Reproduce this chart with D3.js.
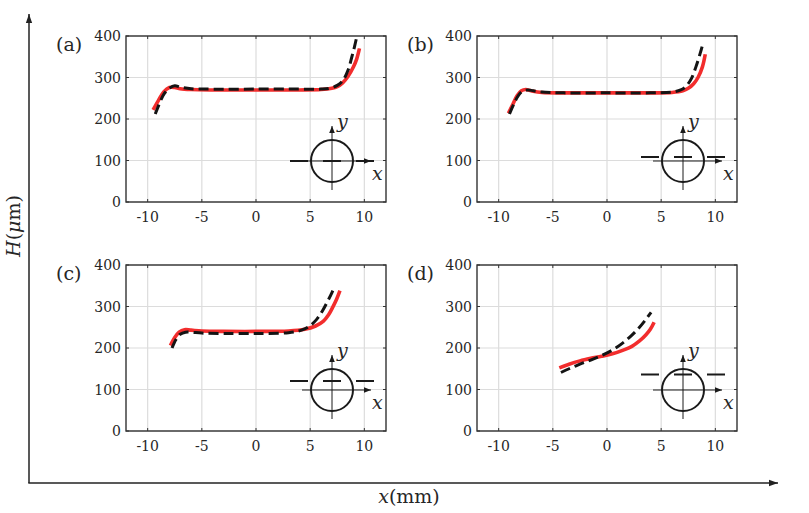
<!DOCTYPE html>
<html>
<head>
<meta charset="utf-8">
<script src="https://cdn.jsdelivr.net/npm/d3@7"></script>
<style>
  body { margin: 0; background: #fff; }
  svg text { fill: #262626; }
</style>
</head>
<body>
<div id="chart"></div>
<script>
// tick values and labels
const xTicks = [-10, -5, 0, 5, 10];
const xTickLabels = ["-10", "-5", "0", "5", "10"];
const yTicks = [0, 100, 200, 300, 400];
const panelNames = ["(a)", "(b)", "(c)", "(d)"];

// red solid curves
const redX = [
  [-9.5, -9.0, -8.5, -8.0, -7.5, -7.0, -6.0, -4, 0, 4, 6, 7, 7.5, 8.0, 8.5, 9.0, 9.3, 9.55],
  [-9.1, -8.7, -8.3, -7.9, -7.5, -7.0, -6.0, -4, 0, 4, 6, 7, 7.5, 8.0, 8.4, 8.8, 9.07],
  [-7.9, -7.5, -7.1, -6.6, -6.0, -5, -3, 0, 3, 4.5, 5.5, 6.2, 6.7, 7.1, 7.45, 7.75],
  [-4.4, -3.5, -2.5, -1.5, -0.5, 0.5, 1.5, 2.3, 3.0, 3.6, 4.0, 4.35]
];
const redY = [
  [222, 245, 266, 276, 276, 273, 271, 270, 270, 270, 271, 274, 278, 287, 303, 326, 345, 370],
  [214, 235, 256, 268, 271, 268, 264, 263, 263, 263, 264, 268, 274, 285, 300, 325, 356],
  [206, 225, 238, 244, 243, 241, 240, 240, 241, 245, 253, 264, 280, 299, 318, 338],
  [152, 161, 169, 175, 180, 186, 195, 204, 217, 232, 245, 262]
];
// black dashed curves
const blackX = [
  [-9.3, -8.9, -8.5, -8.0, -7.5, -7.0, -6.0, -4, 0, 4, 6, 6.8, 7.5, 8.0, 8.5, 8.85, 9.1, 9.3],
  [-9.0, -8.6, -8.2, -7.8, -7.3, -6.8, -6, -4, 0, 4, 6, 6.8, 7.3, 7.8, 8.2, 8.6, 8.9],
  [-7.75, -7.4, -7.0, -6.5, -6.0, -5, -3, 0, 3, 4.2, 5.0, 5.6, 6.1, 6.6, 7.0, 7.27],
  [-4.25, -3.5, -2.5, -1.5, -0.5, 0.5, 1.5, 2.3, 3.0, 3.5, 4.07]
];
const blackY = [
  [212, 238, 260, 274, 280, 277, 273, 272, 272, 272, 272, 274, 281, 292, 318, 350, 375, 398],
  [212, 236, 256, 267, 270, 268, 265, 263, 263, 263, 265, 270, 279, 298, 325, 358, 386],
  [200, 220, 233, 238, 238, 236, 235, 235, 237, 243, 254, 269, 288, 312, 333, 349],
  [141, 150, 161, 171, 182, 195, 213, 231, 250, 266, 286]
];
// vertical offset of the scan line in each inset (px above circle centre)
const scanOffset = [0, 4, 9, 15.5];

const W = 809, H = 513;
const pw = 260, ph = 166;
const lefts = [126, 477, 126, 477];
const tops = [36, 36, 265, 265];
const serif = "'DejaVu Serif', 'Liberation Serif', serif";

const svg = d3.select("#chart").append("svg")
    .attr("width", W).attr("height", H)
    .attr("font-family", serif);

const defs = svg.append("defs");
defs.append("marker")
    .attr("id", "big").attr("viewBox", "0 0 10 10")
    .attr("refX", 10).attr("refY", 5)
    .attr("markerWidth", 9).attr("markerHeight", 9)
    .attr("markerUnits", "userSpaceOnUse")
    .attr("orient", "auto")
    .append("path").attr("d", "M0,1.5L10,5L0,8.5Z").attr("fill", "#222");
defs.append("marker")
    .attr("id", "small").attr("viewBox", "0 0 10 10")
    .attr("refX", 10).attr("refY", 5)
    .attr("markerWidth", 7).attr("markerHeight", 7)
    .attr("markerUnits", "userSpaceOnUse")
    .attr("orient", "auto")
    .append("path").attr("d", "M0,1L10,5L0,9Z").attr("fill", "#1a1a1a");

// big outer axes
svg.append("line")
    .attr("x1", 29).attr("y1", 483).attr("x2", 29).attr("y2", 14)
    .attr("stroke", "#222").attr("stroke-width", 1.5)
    .attr("marker-end", "url(#big)");
svg.append("line")
    .attr("x1", 28.3).attr("y1", 483).attr("x2", 778).attr("y2", 483)
    .attr("stroke", "#222").attr("stroke-width", 1.5)
    .attr("marker-end", "url(#big)");

const yLab = svg.append("text")
    .attr("transform", "translate(20,226) rotate(-90)")
    .attr("text-anchor", "middle")
    .attr("font-size", 19);
yLab.append("tspan").attr("font-style", "italic").text("H");
yLab.append("tspan").text("(");
yLab.append("tspan").attr("font-style", "italic").text("μ");
yLab.append("tspan").text("m)");

const xLab = svg.append("text")
    .attr("x", 409).attr("y", 503)
    .attr("text-anchor", "middle")
    .attr("font-size", 19);
xLab.append("tspan").attr("font-style", "italic").text("x");
xLab.append("tspan").text("(mm)");

panelNames.forEach(function(name, i) {
    const g = svg.append("g")
        .attr("transform", `translate(${lefts[i]},${tops[i]})`);

    const x = d3.scaleLinear().domain([-12, 12]).range([0, pw]);
    const y = d3.scaleLinear().domain([0, 400]).range([ph, 0]);

    // grid
    g.append("g").selectAll("line").data(xTicks).join("line")
        .attr("x1", d => x(d)).attr("x2", d => x(d))
        .attr("y1", 0).attr("y2", ph)
        .attr("stroke", "#dcdcdc").attr("stroke-width", 1.2);
    g.append("g").selectAll("line").data(yTicks).join("line")
        .attr("x1", 0).attr("x2", pw)
        .attr("y1", d => y(d)).attr("y2", d => y(d))
        .attr("stroke", "#dcdcdc").attr("stroke-width", 1.2);

    // inset: circle with axes and scan line
    const cx = pw - 54, cy = ph - 41, r = 21;
    const ins = g.append("g").attr("transform", `translate(${cx},${cy})`);
    ins.append("circle").attr("r", r)
        .attr("fill", "none").attr("stroke", "#1a1a1a").attr("stroke-width", 2);
    ins.append("line")
        .attr("x1", -30).attr("y1", 0).attr("x2", 39).attr("y2", 0)
        .attr("stroke", "#1a1a1a").attr("stroke-width", 1)
        .attr("marker-end", "url(#small)");
    ins.append("line")
        .attr("x1", 0).attr("y1", 29).attr("x2", 0).attr("y2", -35)
        .attr("stroke", "#1a1a1a").attr("stroke-width", 1)
        .attr("marker-end", "url(#small)");
    ins.append("line")
        .attr("x1", -42).attr("x2", 42)
        .attr("y1", -scanOffset[i]).attr("y2", -scanOffset[i])
        .attr("stroke", "#1a1a1a").attr("stroke-width", 2.2)
        .attr("stroke-dasharray", "18,15");
    ins.append("text").attr("x", 5).attr("y", -33)
        .attr("font-size", 19).attr("font-style", "italic").text("y");
    ins.append("text").attr("x", 40).attr("y", 19)
        .attr("font-size", 19).attr("font-style", "italic").text("x");

    // curves
    const line = d3.line()
        .x(d => x(d[0])).y(d => y(d[1]))
        .curve(d3.curveCatmullRom.alpha(0.5));
    const red = d3.zip(redX[i], redY[i]);
    const blk = d3.zip(blackX[i], blackY[i]);
    g.append("path").datum(red)
        .attr("fill", "none").attr("stroke", "#f22d2d")
        .attr("stroke-width", 3.6).attr("d", line);
    g.append("path").datum(blk)
        .attr("fill", "none").attr("stroke", "#141414")
        .attr("stroke-width", 3).attr("stroke-dasharray", "10,5")
        .attr("d", line);

    // box and inward ticks
    g.append("rect").attr("width", pw).attr("height", ph)
        .attr("fill", "none").attr("stroke", "#333").attr("stroke-width", 1.4);
    const tk = g.append("g").attr("stroke", "#333").attr("stroke-width", 1);
    xTicks.forEach(function(t) {
        tk.append("line").attr("x1", x(t)).attr("x2", x(t)).attr("y1", ph).attr("y2", ph - 3);
        tk.append("line").attr("x1", x(t)).attr("x2", x(t)).attr("y1", 0).attr("y2", 3);
    });
    yTicks.forEach(function(t) {
        tk.append("line").attr("x1", 0).attr("x2", 3).attr("y1", y(t)).attr("y2", y(t));
        tk.append("line").attr("x1", pw).attr("x2", pw - 3).attr("y1", y(t)).attr("y2", y(t));
    });

    // tick labels
    g.append("g").selectAll("text").data(xTicks).join("text")
        .attr("x", d => x(d)).attr("y", ph + 20)
        .attr("text-anchor", "middle")
        .attr("font-size", 14)
        .text((d, j) => xTickLabels[j]);
    g.append("g").selectAll("text").data(yTicks).join("text")
        .attr("x", -5).attr("y", d => y(d) + 5)
        .attr("text-anchor", "end")
        .attr("font-size", 14)
        .text(d => d);

    // panel label
    g.append("text").attr("x", -70).attr("y", 15)
        .attr("font-size", 19).text(name);
});
</script>
</body>
</html>
